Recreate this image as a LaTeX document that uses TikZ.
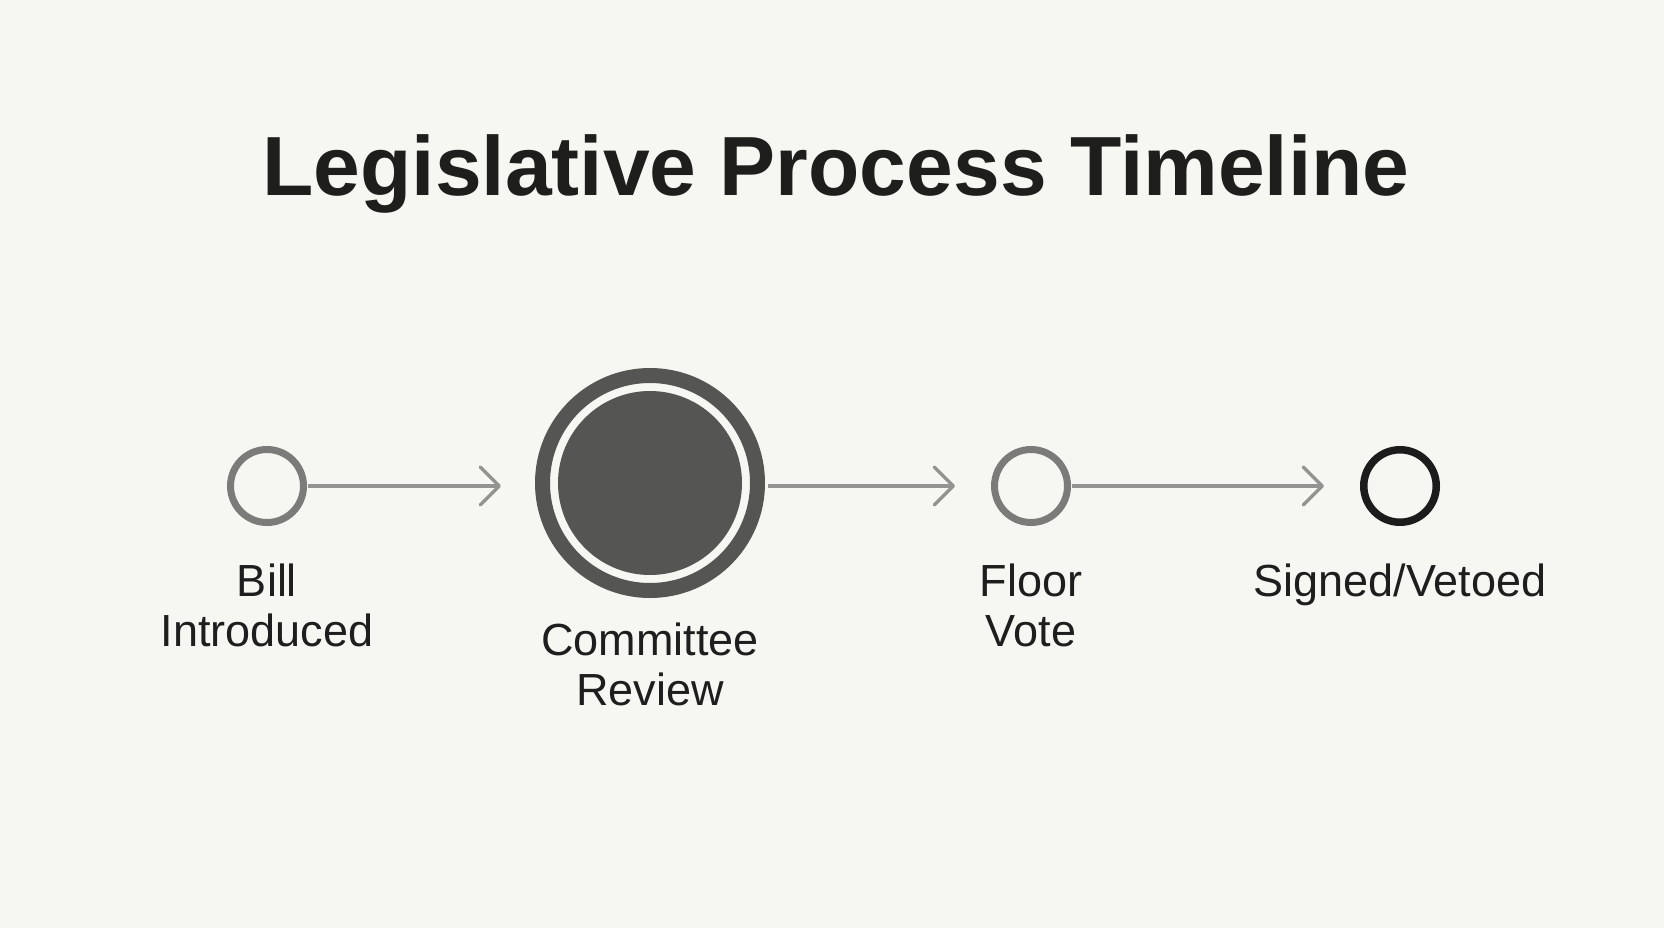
\documentclass[tikz,border=0pt]{standalone}
\usepackage{fontspec}
\setmainfont{Liberation Sans}
\usetikzlibrary{arrows.meta}
\definecolor{bg}{HTML}{F6F6F2}
\definecolor{titlec}{HTML}{1E1E1C}
\definecolor{ringgray}{HTML}{7B7B79}
\definecolor{darkfill}{HTML}{555553}
\definecolor{arrowgray}{HTML}{939391}
\definecolor{blackring}{HTML}{1C1C1C}
\definecolor{labelc}{HTML}{1E1E1E}
\tikzset{
  smallring/.style={circle, draw=ringgray, line width=7pt, minimum size=73pt, inner sep=0pt},
  blackringstyle/.style={circle, draw=blackring, line width=7.5pt, minimum size=72.5pt, inner sep=0pt},
  bigring/.style={circle, draw=darkfill, line width=15pt, minimum size=215pt, inner sep=0pt},
  bigdisk/.style={circle, fill=darkfill, minimum size=184pt, inner sep=0pt},
  flowarrow/.style={draw=arrowgray, line width=4pt,
    -{Straight Barb[length=19pt,width=38pt,line width=3.5pt,round]}},
  lbl/.style={anchor=north, inner sep=0pt, align=center, text=labelc,
    font=\fontsize{45}{50}\selectfont},
  titlestyle/.style={anchor=base, inner sep=0pt, text=titlec,
    font=\fontsize{84}{100}\selectfont\bfseries}
}
\begin{document}
\begin{tikzpicture}[x=1pt,y=-1pt]
\fill[bg] (0,0) rectangle (1664,928);
\useasboundingbox (0,0) rectangle (1664,928);

\node[titlestyle] (title) at (836,196) {Legislative Process Timeline};

\node[smallring] (c1) at (267,486) {};
\node[bigring] (c2) at (650,483) {};
\node[bigdisk] (c2in) at (650,483) {};
\node[smallring] (c3) at (1031,486) {};
\node[blackringstyle] (c4) at (1400,486) {};

\coordinate (t1) at ([xshift=-34pt]c2.west |- c1.center);
\coordinate (t2) at ([xshift=-36pt]c3.west);
\coordinate (t3) at ([xshift=-36pt]c4.west);
\draw[flowarrow] ([xshift=1pt]c1.east) -- (t1);
\draw[flowarrow] ([xshift=3pt]c2.east |- c3.center) -- (t2);
\draw[flowarrow] ([xshift=1pt]c3.east) -- (t3);

\node[lbl] (l1) at (267,564) {Bill\\Introduced};
\node[lbl] (l2) at (650,623) {Committee\\Review};
\node[lbl] (l3) at (1031,564) {Floor\\Vote};
\node[lbl] (l4) at (1400,564) {Signed/Vetoed};
\end{tikzpicture}
\end{document}
